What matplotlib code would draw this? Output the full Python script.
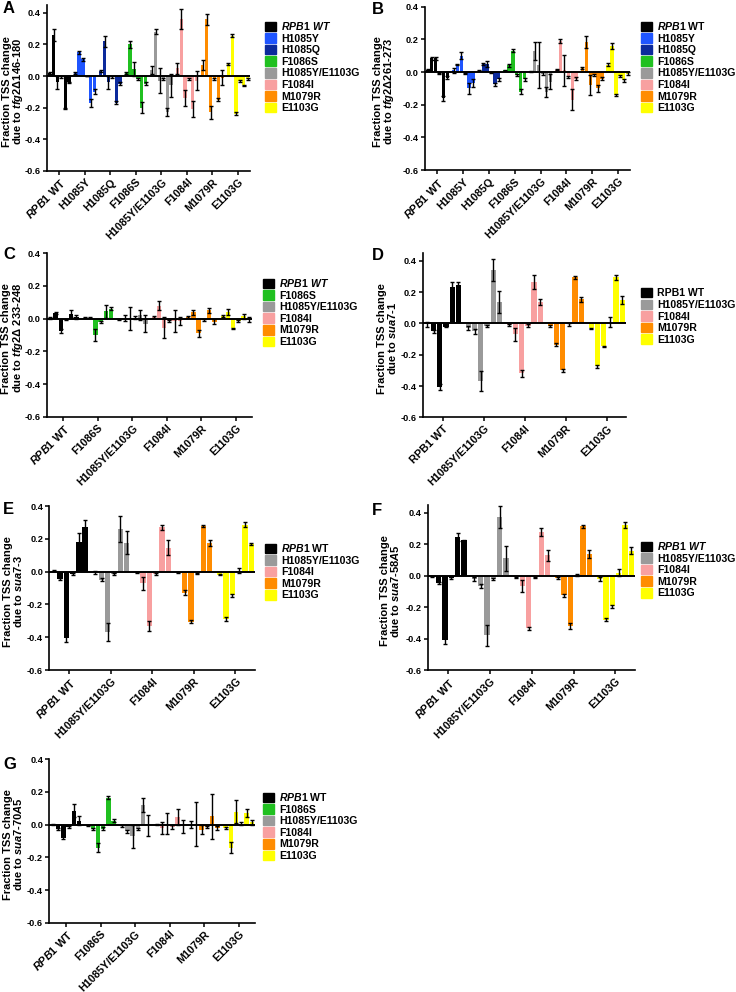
import matplotlib
matplotlib.use("Agg")
import numpy as np
import matplotlib.pyplot as plt
from matplotlib.patches import Patch

plt.rcParams["font.family"] = ["Liberation Sans", "DejaVu Sans"]
plt.rcParams["font.weight"] = "bold"
plt.rcParams["axes.labelweight"] = "bold"
plt.rcParams["mathtext.fontset"] = "custom"
plt.rcParams["mathtext.it"] = "Liberation Sans:italic:bold"
plt.rcParams["mathtext.rm"] = "Liberation Sans:bold"
plt.rcParams["mathtext.bf"] = "Liberation Sans:bold"

# colours of the genotypes
COLORS = {
    "RPB1 WT": "#000000",
    "H1085Y": "#1f55ff",
    "H1085Q": "#0c2a9c",
    "F1086S": "#20c020",
    "H1085Y/E1103G": "#9a9a9a",
    "F1084I": "#f8a0a0",
    "M1079R": "#ff8c00",
    "E1103G": "#ffff00",
}

# ---- panel A: tfg2 delta146-180
a_groups = ["RPB1 WT", "H1085Y", "H1085Q", "F1086S", "H1085Y/E1103G", "F1084I", "M1079R", "E1103G"]
a_vals = [
    [0.02, 0.26, -0.04, -0.005, -0.205, -0.04],
    [0.02, 0.15, 0.105, 0.0, -0.17, -0.10],
    [0.03, 0.22, -0.04, -0.005, -0.17, -0.05],
    [0.02, 0.20, 0.045, -0.02, -0.20, -0.05],
    [0.04, 0.28, -0.03, -0.02, -0.23, -0.06],
    [0.05, 0.36, -0.14, -0.02, -0.21, -0.03],
    [0.07, 0.36, -0.23, -0.02, -0.15, -0.01],
    [0.075, 0.255, -0.24, -0.03, -0.06, -0.02],
]
a_errs = [
    [0.005, 0.04, 0.04, 0.005, 0.005, 0.005],
    [0.005, 0.01, 0.01, 0.003, 0.025, 0.015],
    [0.005, 0.035, 0.04, 0.005, 0.01, 0.01],
    [0.005, 0.02, 0.045, 0.005, 0.035, 0.01],
    [0.025, 0.015, 0.08, 0.005, 0.025, 0.07],
    [0.035, 0.065, 0.05, 0.005, 0.05, 0.06],
    [0.03, 0.035, 0.04, 0.005, 0.01, 0.045],
    [0.005, 0.01, 0.01, 0.005, 0.005, 0.005],
]

# ---- panel B: tfg2 delta261-273
b_groups = a_groups
b_vals = [
    [0.015, 0.085, 0.085, -0.01, -0.16, -0.035],
    [0.01, 0.045, 0.10, -0.01, -0.10, -0.065],
    [0.01, 0.05, 0.05, -0.005, -0.075, -0.045],
    [0.01, 0.04, 0.13, -0.02, -0.12, -0.045],
    [0.005, 0.13, 0.045, -0.01, -0.12, -0.06],
    [0.015, 0.19, 0.01, -0.03, -0.17, -0.04],
    [0.025, 0.185, -0.08, -0.02, -0.10, -0.04],
    [0.045, 0.16, -0.14, -0.025, -0.05, -0.01],
]
b_errs = [
    [0.005, 0.01, 0.01, 0.003, 0.015, 0.01],
    [0.015, 0.005, 0.02, 0.005, 0.035, 0.025],
    [0.005, 0.005, 0.02, 0.003, 0.01, 0.01],
    [0.005, 0.01, 0.01, 0.005, 0.015, 0.01],
    [0.003, 0.055, 0.14, 0.01, 0.03, 0.045],
    [0.005, 0.01, 0.095, 0.005, 0.065, 0.01],
    [0.005, 0.035, 0.06, 0.005, 0.02, 0.01],
    [0.01, 0.02, 0.005, 0.005, 0.01, 0.01],
]

# ---- panel C: tfg2 delta233-248
c_groups = ["RPB1 WT", "F1086S", "H1085Y/E1103G", "F1084I", "M1079R", "E1103G"]
c_vals = [
    [0.005, 0.035, -0.075, -0.005, 0.03, 0.01],
    [0.005, 0.005, -0.10, -0.02, 0.045, 0.06],
    [-0.005, 0.005, 0.0, 0.005, 0.02, -0.03],
    [0.01, 0.08, -0.055, -0.015, -0.015, -0.015],
    [0.01, 0.04, -0.09, -0.01, 0.05, -0.02],
    [0.015, 0.04, -0.06, -0.015, 0.015, -0.005],
]
c_errs = [
    [0.005, 0.005, 0.01, 0.003, 0.02, 0.01],
    [0.003, 0.003, 0.035, 0.005, 0.04, 0.01],
    [0.005, 0.02, 0.07, 0.01, 0.03, 0.05],
    [0.005, 0.03, 0.065, 0.005, 0.065, 0.025],
    [0.005, 0.015, 0.02, 0.005, 0.015, 0.015],
    [0.005, 0.02, 0.005, 0.005, 0.015, 0.015],
]

# ---- panels D, E, F: sua7 alleles
d_groups = ["RPB1 WT", "H1085Y/E1103G", "F1084I", "M1079R", "E1103G"]
d_vals = [
    [-0.005, -0.05, -0.405, -0.02, 0.23, 0.245],
    [-0.03, -0.05, -0.37, -0.015, 0.34, 0.135],
    [-0.01, -0.07, -0.32, -0.015, 0.265, 0.135],
    [-0.015, -0.135, -0.30, -0.005, 0.295, 0.155],
    [-0.03, -0.275, -0.145, 0.01, 0.295, 0.15],
]
d_errs = [
    [0.015, 0.01, 0.02, 0.005, 0.035, 0.02],
    [0.015, 0.015, 0.065, 0.005, 0.07, 0.07],
    [0.005, 0.04, 0.02, 0.01, 0.045, 0.02],
    [0.005, 0.01, 0.01, 0.01, 0.01, 0.015],
    [0.003, 0.01, 0.003, 0.03, 0.015, 0.025],
]

e_vals = [
    [0.005, -0.045, -0.405, -0.015, 0.18, 0.275],
    [-0.005, -0.05, -0.37, -0.015, 0.26, 0.175],
    [-0.005, -0.07, -0.33, -0.015, 0.27, 0.145],
    [-0.005, -0.13, -0.305, -0.01, 0.28, 0.175],
    [-0.02, -0.29, -0.145, 0.005, 0.285, 0.17],
]
e_errs = [
    [0.003, 0.005, 0.025, 0.005, 0.055, 0.04],
    [0.008, 0.01, 0.055, 0.005, 0.08, 0.07],
    [0.003, 0.04, 0.03, 0.008, 0.015, 0.045],
    [0.003, 0.015, 0.008, 0.003, 0.005, 0.02],
    [0.003, 0.012, 0.008, 0.015, 0.015, 0.005],
]

f_vals = [
    [-0.005, -0.045, -0.41, -0.015, 0.245, 0.225],
    [-0.02, -0.065, -0.38, -0.02, 0.375, 0.11],
    [-0.01, -0.065, -0.335, -0.01, 0.28, 0.13],
    [-0.015, -0.125, -0.32, 0.005, 0.315, 0.14],
    [-0.02, -0.28, -0.195, 0.02, 0.325, 0.16],
]
f_errs = [
    [0.002, 0.005, 0.025, 0.005, 0.025, 0.005],
    [0.012, 0.015, 0.065, 0.005, 0.07, 0.08],
    [0.005, 0.04, 0.01, 0.005, 0.025, 0.035],
    [0.005, 0.008, 0.02, 0.005, 0.01, 0.025],
    [0.012, 0.008, 0.008, 0.022, 0.02, 0.022],
]

# ---- panel G: sua7-70A5
g_groups = c_groups
g_vals = [
    [0.0, -0.025, -0.08, -0.015, 0.085, 0.025],
    [-0.005, -0.025, -0.14, -0.025, 0.165, 0.025],
    [-0.01, -0.04, -0.07, -0.025, 0.12, -0.005],
    [0.0, -0.02, 0.005, -0.015, 0.045, -0.01],
    [0.0, 0.005, -0.03, -0.015, 0.05, -0.02],
    [-0.02, -0.14, 0.08, 0.005, 0.07, 0.015],
]
g_errs = [
    [0.003, 0.005, 0.01, 0.005, 0.04, 0.025],
    [0.003, 0.005, 0.025, 0.01, 0.01, 0.01],
    [0.005, 0.01, 0.07, 0.005, 0.045, 0.065],
    [0.003, 0.035, 0.065, 0.01, 0.05, 0.04],
    [0.022, 0.135, 0.03, 0.005, 0.135, 0.01],
    [0.005, 0.035, 0.07, 0.01, 0.025, 0.015],
]

RPB1_IT = r"$\mathit{RPB1}$ WT"
RPB1_ALL_IT = r"$\mathit{RPB1\ WT}$"

W, H = 736, 992
fig = plt.figure(figsize=(W / 100, H / 100), dpi=100)


def panel(letter, letter_xy, box, ymax, groups, vals, errs, strain, wt_tick, wt_leg, leg_xy, lab_off):
    left, top, right, bottom = box
    ax = fig.add_axes([left / W, 1 - bottom / H, (right - left) / W, (bottom - top) / H])
    step = 6.6
    for gi, g in enumerate(groups):
        x = gi * step + np.arange(6)
        ax.bar(x, vals[gi], width=0.85, color=COLORS[g], edgecolor="none", zorder=2)
        ax.errorbar(x, vals[gi], yerr=errs[gi], fmt="none", ecolor="black",
                    elinewidth=1.0, capsize=1.6, capthick=1.0, zorder=3)
    n = len(groups)
    ax.set_xlim(-0.7, (n - 1) * step + 5.6)
    ax.set_ylim(-0.6, ymax)
    ax.axhline(0, color="black", lw=1.4, zorder=4)
    ax.set_yticks([-0.6, -0.4, -0.2, 0.0, 0.2, 0.4])
    ax.set_yticklabels(["-0.6", "-0.4", "-0.2", "0.0", "0.2", "0.4"])
    ax.set_xticks([gi * step + 2.5 for gi in range(n)])
    ticklabels = [wt_tick if g == "RPB1 WT" else g for g in groups]
    ax.set_xticklabels(ticklabels, rotation=45, ha="right", rotation_mode="anchor")
    ax.tick_params(width=1.1, length=3, pad=1.5)
    ax.tick_params(axis="y", labelsize=6.6)
    ax.tick_params(axis="x", labelsize=7.8)
    for s in ["top", "right"]:
        ax.spines[s].set_visible(False)
    for s in ["left", "bottom"]:
        ax.spines[s].set_linewidth(1.2)
    ax.set_ylabel("Fraction TSS change\ndue to " + strain, fontsize=8.0, linespacing=0.92)
    # right edge of the y label, in pixels left of the axis
    ax.yaxis.set_label_coords(-lab_off / (right - left), 0.48)

    handles = [Patch(color=COLORS[g], label=(wt_leg if g == "RPB1 WT" else g)) for g in groups]
    ax.legend(handles=handles, loc="upper left", bbox_to_anchor=(leg_xy[0] / W, 1 - leg_xy[1] / H),
              bbox_transform=fig.transFigure, frameon=False, fontsize=7.6,
              handlelength=1.0, handleheight=1.0, handletextpad=0.5,
              labelspacing=0.12, borderpad=0, borderaxespad=0)
    fig.text(letter_xy[0] / W, 1 - letter_xy[1] / H, letter, fontsize=12,
             fontweight="bold", va="top", ha="left")
    return ax


panel("A", (3, 1), (47, 5, 250, 170.7), 0.45, a_groups, a_vals, a_errs,
      r"$\mathit{tfg2}$Δ$\mathit{146}$-$\mathit{180}$", RPB1_IT, RPB1_ALL_IT, (265, 20), 22)
panel("B", (372, 2), (425, 6.7, 630, 170), 0.4, b_groups, b_vals, b_errs,
      r"$\mathit{tfg2}$Δ$\mathit{261}$-$\mathit{273}$", RPB1_IT, RPB1_IT, (641, 20), 29)
panel("C", (3, 247), (46.7, 253.3, 252, 416.7), 0.4, c_groups, c_vals, c_errs,
      r"$\mathit{tfg2}$Δ $\mathit{233}$-$\mathit{248}$", RPB1_IT, RPB1_ALL_IT, (263, 277), 22)
panel("D", (372, 248), (423, 253, 626, 417.3), 0.45, d_groups, d_vals, d_errs,
      r"$\mathit{sua7}$-$\mathit{1}$", "RPB1 WT", "RPB1 WT", (641, 288), 25)
panel("E", (3, 502), (49.3, 506, 255, 670), 0.4, d_groups, e_vals, e_errs,
      r"$\mathit{sua7}$-$\mathit{3}$", RPB1_IT, RPB1_IT, (265, 542), 25)
panel("F", (372, 503), (428, 505, 635, 670), 0.45, d_groups, f_vals, f_errs,
      r"$\mathit{sua7}$-$\mathit{58A5}$", RPB1_IT, RPB1_ALL_IT, (641, 540), 27)
panel("G", (3, 757), (49.3, 759.3, 255, 922.7), 0.4, g_groups, g_vals, g_errs,
      r"$\mathit{sua7}$-$\mathit{70A5}$", RPB1_IT, RPB1_IT, (263, 791), 25)

fig.savefig("out.png", dpi=100)
